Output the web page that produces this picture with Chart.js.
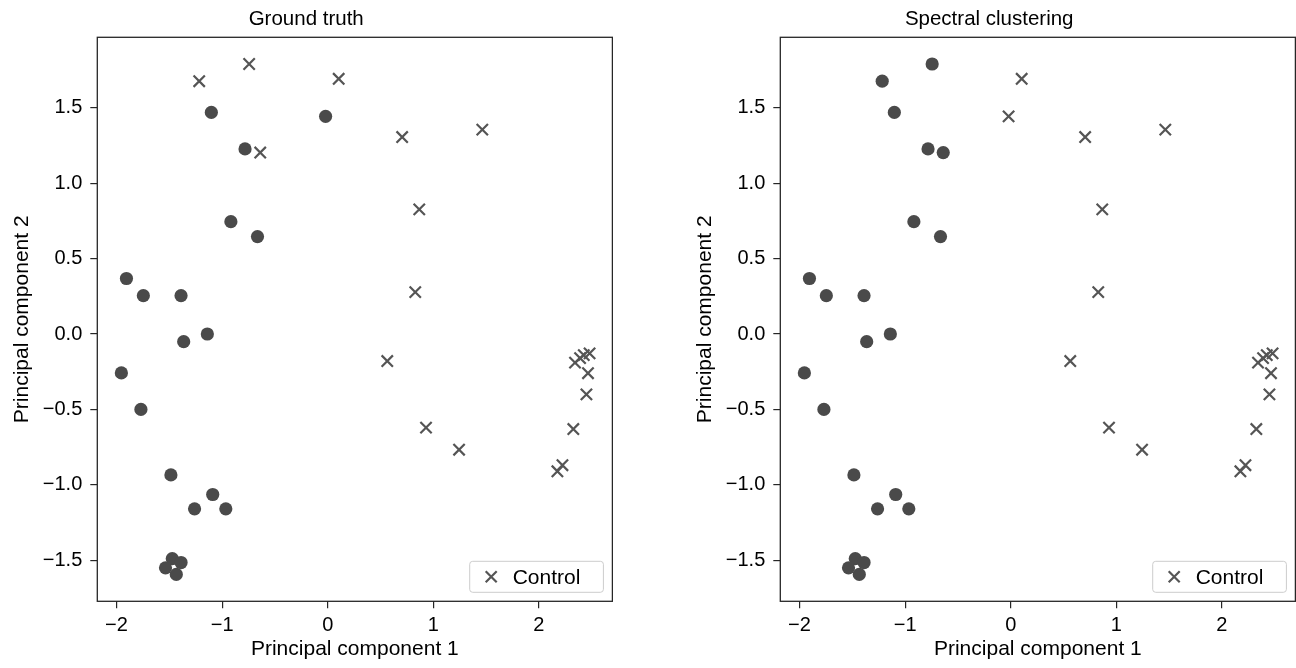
<!DOCTYPE html>
<html>
<head>
<meta charset="utf-8">
<script src="https://cdn.jsdelivr.net/npm/chart.js@4.4.1/dist/chart.umd.min.js"></script>
<style>
    html, body { margin: 0; padding: 0; background: #ffffff; overflow: hidden; }
    .panel { position: absolute; top: 0; width: 613px; height: 668px; }
    #leftPanel { left: 0; }
    #rightPanel { left: 683px; }
</style>
</head>
<body>
<div class="panel" id="leftPanel"><canvas id="truthChart"></canvas></div>
<div class="panel" id="rightPanel"><canvas id="spectralChart"></canvas></div>
<script>
// PCA coordinates of the 40 samples
const pc1 = [
    -1.217, -0.744, 0.104, -1.102, -0.020, 0.705, 1.464, -0.783, -0.639, 0.867,
    -0.917, -0.665, -1.906, -1.746, -1.389, 0.829, -1.140, -1.364, 0.564, -1.954,
    -1.769, 2.342, 2.390, 2.425, 2.480, 2.465, 2.450, 2.326, 0.931, 1.244,
    2.175, 2.223, -1.485, -1.089, -1.261, -0.965, -1.472, -1.389, -1.536, -1.434,
];
const pc2 = [
    1.676, 1.790, 1.692, 1.469, 1.443, 1.306, 1.355, 1.227, 1.203, 0.826,
    0.745, 0.646, 0.368, 0.254, 0.254, 0.278, 0.000, -0.051, -0.179, -0.258,
    -0.500, -0.190, -0.160, -0.140, -0.128, -0.260, -0.400, -0.630, -0.621, -0.767,
    -0.910, -0.870, -0.934, -1.064, -1.159, -1.159, -1.489, -1.515, -1.550, -1.594,
];

// 1 = Control, 0 = other group
const truthGroup = [
    1, 1, 1, 0, 0, 1, 1, 0, 1, 1,
    0, 0, 0, 0, 0, 1, 0, 0, 1, 0,
    0, 1, 1, 1, 1, 1, 1, 1, 1, 1,
    1, 1, 0, 0, 0, 0, 0, 0, 0, 0,
];
const spectralGroup = [
    0, 0, 1, 0, 1, 1, 1, 0, 0, 1,
    0, 0, 0, 0, 0, 1, 0, 0, 1, 0,
    0, 1, 1, 1, 1, 1, 1, 1, 1, 1,
    1, 1, 0, 0, 0, 0, 0, 0, 0, 0,
];

const xTicks = [-2, -1, 0, 1, 2];
const yTicks = [-1.5, -1.0, -0.5, 0.0, 0.5, 1.0, 1.5];
const controlLabel = 'Control';

const fontFamily = '"Liberation Sans", Arial, Helvetica, sans-serif';
const markColor = '#4a4a4a';
const crossColor = '#555555';

function minusSign(text) {
    return text.replace('-', '\u2212');
}

function groupPoints(groups, g) {
    const pts = [];
    pc1.forEach((x, i) => {
        if (groups[i] === g) {
            pts.push({ x: x, y: pc2[i] });
        }
    });
    return pts;
}

// box around the whole plot area, like a matplotlib axes frame
const frame = {
    id: 'frame',
    afterDraw(chart) {
        const { ctx, chartArea } = chart;
        ctx.save();
        ctx.strokeStyle = '#262626';
        ctx.lineWidth = 1.3;
        ctx.strokeRect(chartArea.left, chartArea.top, chartArea.width, chartArea.height);
        ctx.restore();
    },
};

// legend box in the lower right corner, only the Control series
const boxLegend = {
    id: 'boxLegend',
    afterDraw(chart) {
        const { ctx, chartArea } = chart;
        const ds = chart.data.datasets.find((d) => d.label === controlLabel);
        if (!ds) {
            return;
        }
        ctx.save();
        ctx.font = '21px ' + fontFamily;
        const textW = ctx.measureText(ds.label).width;
        const w = 43 + textW + 23;
        const h = 31;
        const x0 = chartArea.right - 9 - w;
        const y0 = chartArea.bottom - 9 - h;

        ctx.beginPath();
        ctx.roundRect(x0, y0, w, h, 3);
        ctx.fillStyle = 'rgba(255, 255, 255, 0.8)';
        ctx.fill();
        ctx.strokeStyle = '#cccccc';
        ctx.lineWidth = 1;
        ctx.stroke();

        const cx = x0 + 21.5;
        const cy = y0 + h / 2;
        const r = 5.5;
        ctx.beginPath();
        ctx.moveTo(cx - r, cy - r);
        ctx.lineTo(cx + r, cy + r);
        ctx.moveTo(cx + r, cy - r);
        ctx.lineTo(cx - r, cy + r);
        ctx.strokeStyle = ds.borderColor;
        ctx.lineWidth = ds.borderWidth;
        ctx.stroke();

        ctx.fillStyle = '#000000';
        ctx.textBaseline = 'middle';
        ctx.textAlign = 'left';
        ctx.fillText(ds.label, x0 + 43, cy + 1);
        ctx.restore();
    },
};

function makeChart(canvasId, title, groups) {
    const canvas = document.getElementById(canvasId);
    if (!canvas) {
        return;
    }

    const ctx = canvas.getContext('2d');
    new Chart(ctx, {
        type: 'scatter',
        data: {
            datasets: [
                {
                    label: 'Other',
                    data: groupPoints(groups, 0),
                    pointStyle: 'circle',
                    pointRadius: 6.6,
                    pointHoverRadius: 6.6,
                    backgroundColor: markColor,
                    borderWidth: 0,
                },
                {
                    label: controlLabel,
                    data: groupPoints(groups, 1),
                    pointStyle: 'crossRot',
                    pointRadius: 8,
                    pointHoverRadius: 8,
                    borderColor: crossColor,
                    backgroundColor: crossColor,
                    borderWidth: 2.2,
                },
            ],
        },
        options: {
            responsive: true,
            maintainAspectRatio: false,
            animation: false,
            events: [],
            layout: {
                autoPadding: false,
                padding: { left: 0, right: 0.6, top: 0, bottom: 0 },
            },
            plugins: {
                legend: {
                    display: false,
                },
                tooltip: {
                    enabled: false,
                },
                title: {
                    display: true,
                    text: title,
                    color: '#000000',
                    font: { family: fontFamily, size: 20.5, weight: 'normal' },
                    padding: { top: 7, bottom: 5.7 },
                },
            },
            scales: {
                x: {
                    type: 'linear',
                    min: -2.182,
                    max: 2.696,
                    afterBuildTicks: (scale) => {
                        scale.ticks = xTicks.map((v) => ({ value: v }));
                    },
                    afterFit: (scale) => {
                        scale.height = 66.7;
                        scale.paddingLeft = 0;
                        scale.paddingRight = 0;
                    },
                    border: {
                        display: false,
                    },
                    grid: {
                        drawOnChartArea: false,
                        drawTicks: true,
                        tickLength: 7,
                        color: '#262626',
                        lineWidth: 1.2,
                    },
                    ticks: {
                        color: '#000000',
                        padding: 5,
                        font: { family: fontFamily, size: 20 },
                        callback: (v) => minusSign(String(v)),
                    },
                    title: {
                        display: true,
                        text: 'Principal component 1',
                        color: '#000000',
                        font: { family: fontFamily, size: 21 },
                        padding: { top: 0, bottom: 6 },
                    },
                },
                y: {
                    type: 'linear',
                    min: -1.772,
                    max: 1.967,
                    afterBuildTicks: (scale) => {
                        scale.ticks = yTicks.map((v) => ({ value: v }));
                    },
                    afterFit: (scale) => {
                        scale.width = 97.3;
                        scale.paddingTop = 0;
                        scale.paddingBottom = 0;
                    },
                    border: {
                        display: false,
                    },
                    grid: {
                        drawOnChartArea: false,
                        drawTicks: true,
                        tickLength: 7,
                        color: '#262626',
                        lineWidth: 1.2,
                    },
                    ticks: {
                        color: '#000000',
                        padding: 8,
                        font: { family: fontFamily, size: 20 },
                        callback: (v) => minusSign(v.toFixed(1)),
                    },
                    title: {
                        display: true,
                        text: 'Principal component 2',
                        color: '#000000',
                        font: { family: fontFamily, size: 21 },
                        padding: { top: 9.5, bottom: 0 },
                    },
                },
            },
        },
        plugins: [frame, boxLegend],
    });
}

makeChart('truthChart', 'Ground truth', truthGroup);
makeChart('spectralChart', 'Spectral clustering', spectralGroup);
</script>
</body>
</html>
